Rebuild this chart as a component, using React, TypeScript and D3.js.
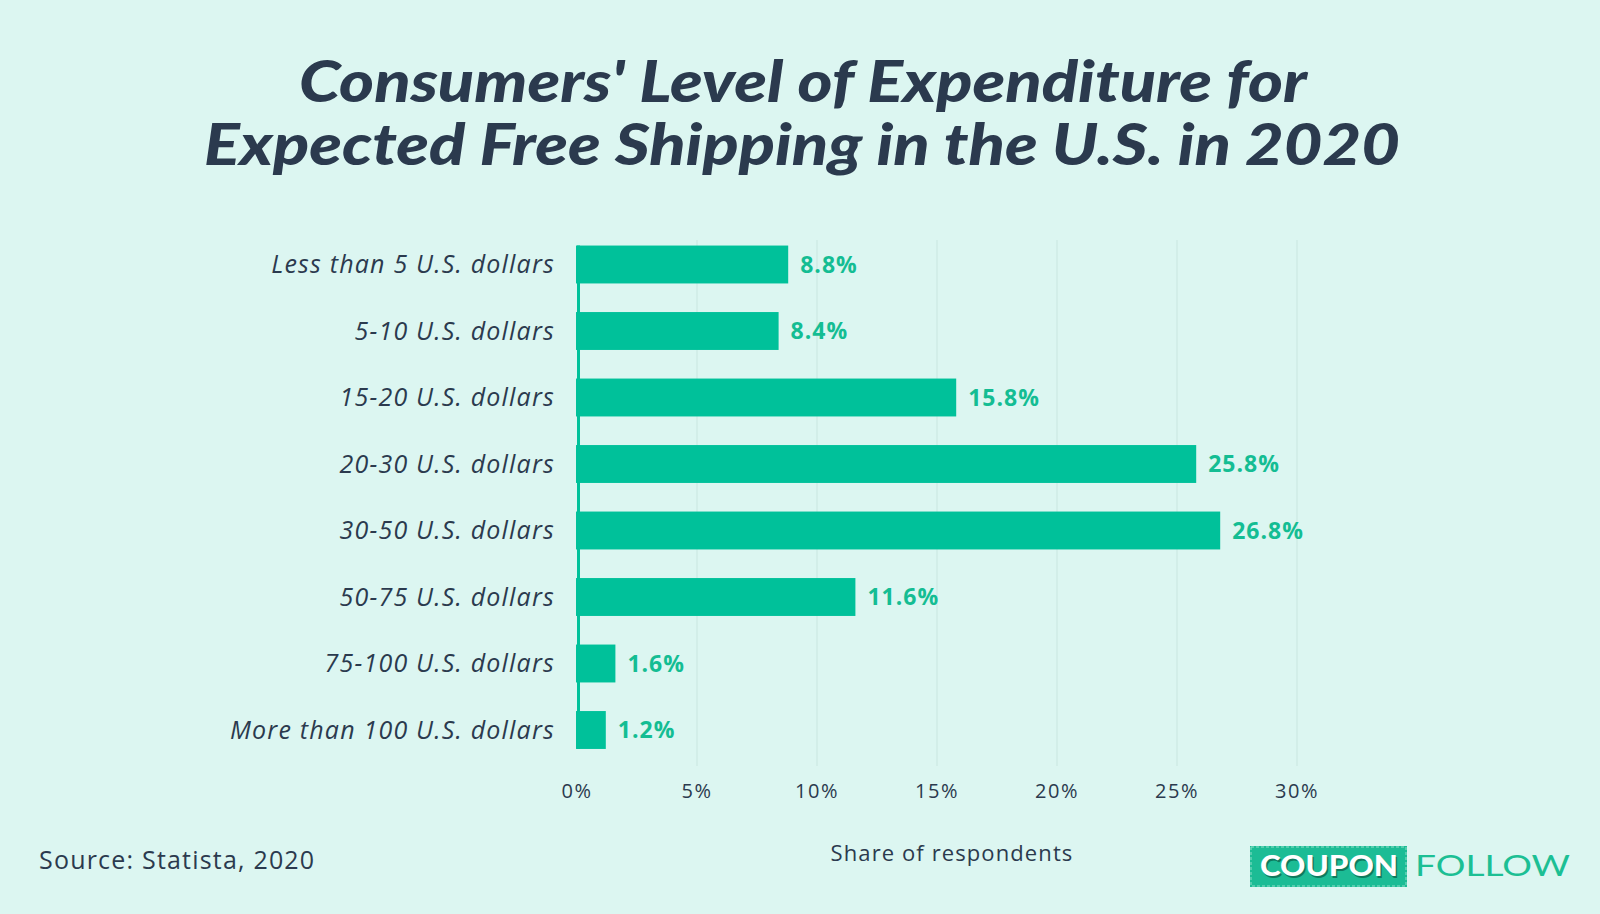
import React from "react";
import * as d3 from "d3";

const categories = [
  "Less than 5 U.S. dollars",
  "5-10 U.S. dollars",
  "15-20 U.S. dollars",
  "20-30 U.S. dollars",
  "30-50 U.S. dollars",
  "50-75 U.S. dollars",
  "75-100 U.S. dollars",
  "More than 100 U.S. dollars",
];
const values = [8.8, 8.4, 15.8, 25.8, 26.8, 11.6, 1.6, 1.2];
const ticks = [0, 5, 10, 15, 20, 25, 30];
const titleLines = [
  "Consumers' Level of Expenditure for",
  "Expected Free Shipping in the U.S. in 2020",
];

const W = 1600;
const H = 914;
const BG = "#dcf6f1";
const BAR = "#00c19a";
const LABEL_GREEN = "#14bd93";
const DARK = "#2b3a4e";
const GRID = "#c9e6e0";
const SANS = "'Open Sans', Lato, sans-serif";

export default function App() {
  const x = d3.scaleLinear().domain([0, 30]).range([577, 1297]);
  const y = d3
    .scaleBand<string>()
    .domain(categories)
    .range([231.25, 231.25 + 8 * 66.5])
    .paddingInner(0.43)
    .paddingOuter(0.215);
  const bw = y.bandwidth();

  return (
    <svg
      width={W}
      height={H}
      style={{ position: "fixed", left: 0, top: 0, display: "block" }}
    >
      <rect x={0} y={0} width={W} height={H} fill={BG} />
      {/* Title */}
      <g
        fontFamily="Lato, 'Open Sans', sans-serif"
        fontWeight={900}
        fontStyle="italic"
        fill={DARK}
        textAnchor="middle"
      >
        <text x={803} y={102} fontSize={58} textLength={1008} lengthAdjust="spacingAndGlyphs">
          {titleLines[0]}
        </text>
        <text x={802} y={165} fontSize={58} textLength={1196} lengthAdjust="spacingAndGlyphs">
          {titleLines[1]}
        </text>
      </g>

      {/* Gridlines */}
      {ticks.slice(1).map((t) => (
        <line
          key={"g" + t}
          x1={x(t)}
          x2={x(t)}
          y1={240}
          y2={766}
          stroke={GRID}
          strokeWidth={1}
        />
      ))}

      {/* Bars */}
      {categories.map((c, i) => (
        <rect
          key={"b" + c}
          x={x(0) - 1}
          y={y(c)!}
          width={x(values[i]) - x(0) + 1}
          height={bw}
          fill={BAR}
        />
      ))}
      {/* axis line */}
      <line
        x1={x(0) + 1.5}
        x2={x(0) + 1.5}
        y1={y(categories[0])!}
        y2={y(categories[categories.length - 1])! + bw}
        stroke={BAR}
        strokeWidth={3}
      />

      {/* Category labels */}
      <g
        fontFamily={SANS}
        fontStyle="italic"
        fontSize={25}
        letterSpacing={1.2}
        fill={DARK}
        textAnchor="end"
      >
        {categories.map((c) => (
          <text key={"l" + c} x={555} y={y(c)! + bw / 2} dy="0.35em">
            {c}
          </text>
        ))}
      </g>

      {/* Value labels */}
      <g fontFamily={SANS} fontWeight={700} fontSize={23} letterSpacing={1} fill={LABEL_GREEN}>
        {categories.map((c, i) => (
          <text key={"v" + c} x={x(values[i]) + 12} y={y(c)! + bw / 2} dy="0.35em">
            {values[i].toFixed(1) + "%"}
          </text>
        ))}
      </g>

      {/* Tick labels */}
      <g fontFamily={SANS} fontSize={20} letterSpacing={1.5} fill={DARK} textAnchor="middle">
        {ticks.map((t) => (
          <text key={"t" + t} x={x(t)} y={791} dy="0.35em">
            {t + "%"}
          </text>
        ))}
      </g>

      <text
        x={952}
        y={853}
        dy="0.35em"
        textAnchor="middle"
        fontFamily={SANS}
        fontSize={22}
        letterSpacing={1.1}
        fill={DARK}
      >
        Share of respondents
      </text>

      <text
        x={39}
        y={860}
        dy="0.35em"
        fontFamily={SANS}
        fontSize={25}
        letterSpacing={1.2}
        fill={DARK}
      >
        Source: Statista, 2020
      </text>

      {/* Logo */}
      <g>
        <rect x={1250} y={846} width={157} height={41} fill="#1cbc95" />
        <rect
          x={1251}
          y={847}
          width={155}
          height={39}
          fill="none"
          stroke="#8fe0c8"
          strokeWidth={1}
          strokeDasharray="3 2"
        />
        <text
          x={1329}
          y={876}
          textAnchor="middle"
          fontFamily="Lato, 'Open Sans', sans-serif"
          fontWeight={900}
          fontSize={28}
          fill="#0e7a5e"
          textLength={138}
          lengthAdjust="spacingAndGlyphs"
          transform="translate(1.5,1.5)"
        >
          COUPON
        </text>
        <text
          x={1329}
          y={876}
          textAnchor="middle"
          fontFamily="Lato, 'Open Sans', sans-serif"
          fontWeight={900}
          fontSize={28}
          fill="#ffffff"
          textLength={138}
          lengthAdjust="spacingAndGlyphs"
        >
          COUPON
        </text>
        <text
          x={1415}
          y={876}
          fontFamily="Lato, 'Open Sans', sans-serif"
          fontWeight={400}
          fontSize={28}
          fill="#1cbf94"
          textLength={155}
          lengthAdjust="spacingAndGlyphs"
        >
          FOLLOW
        </text>
      </g>
    </svg>
  );
}
